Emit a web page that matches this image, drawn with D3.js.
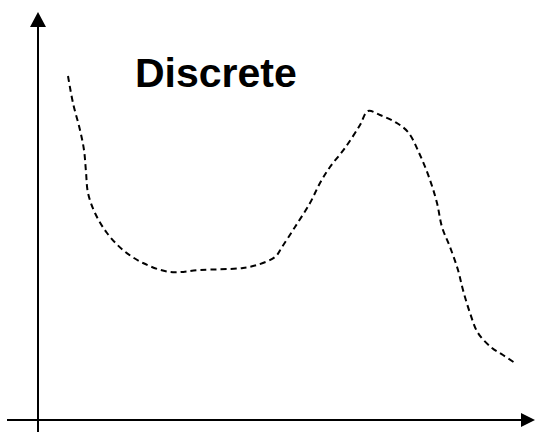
<!DOCTYPE html>
<html lang="en">
<head>
  <meta charset="UTF-8">
  <title>Discrete</title>
  <script src="https://d3js.org/d3.v7.min.js"></script>
  <style>
    body {
      margin: 0;
      background: #fff;
    }
    svg {
      display: block;
    }
  </style>
</head>
<body>

<svg id="chart" width="535" height="432"></svg>

<script>
// Curve samples (arbitrary units, origin at the axes crossing)
const xValues = [30, 35, 42, 46, 48, 50, 57, 69, 85, 105, 132, 162, 205, 219, 237, 244, 257, 272, 282, 292,
  307, 322, 330, 342, 357, 370, 382, 392, 399, 404, 412, 420, 425, 432, 440, 454, 465, 477];
const yValues = [344, 317, 290, 270, 248, 227, 207, 187, 170, 157, 148, 150, 152, 155, 163, 173, 193, 217, 237, 253,
  272, 295, 309, 305, 298, 288, 265, 240, 217, 193, 173, 150, 130, 107, 87, 72, 65, 57];
const title = "Discrete";

const svg = d3.select("#chart");

// Scales
const x = d3.scaleLinear().domain([0, 500]).range([38, 538]);
const y = d3.scaleLinear().domain([0, 400]).range([420, 20]);

const x0 = x(0), y0 = y(0);

// Axes with arrow heads
svg.append("line")
  .attr("x1", x0).attr("y1", 432)
  .attr("x2", x0).attr("y2", 26)
  .attr("stroke", "#000")
  .attr("stroke-width", 2);

svg.append("path")
  .attr("d", `M${x0},12 L${x0 - 8},27 L${x0 + 8},27 Z`)
  .attr("fill", "#000");

svg.append("line")
  .attr("x1", 7).attr("y1", y0)
  .attr("x2", 523).attr("y2", y0)
  .attr("stroke", "#000")
  .attr("stroke-width", 2);

svg.append("path")
  .attr("d", `M535,${y0} L521,${y0 - 7} L521,${y0 + 7} Z`)
  .attr("fill", "#000");

// Dashed curve
const data = xValues.map((v, i) => ({x: v, y: yValues[i]}));

const line = d3.line()
  .x(d => x(d.x))
  .y(d => y(d.y))
  .curve(d3.curveCatmullRom.alpha(0.5));

svg.append("path")
  .datum(data)
  .attr("fill", "none")
  .attr("stroke", "#000")
  .attr("stroke-width", 2)
  .attr("stroke-dasharray", "6,4")
  .attr("d", line);

// Title
svg.append("text")
  .attr("x", 135)
  .attr("y", 87)
  .attr("font-family", "Arial, 'Liberation Sans', sans-serif")
  .attr("font-weight", "bold")
  .attr("font-size", 41)
  .attr("fill", "#000")
  .text(title);
</script>

</body>
</html>
